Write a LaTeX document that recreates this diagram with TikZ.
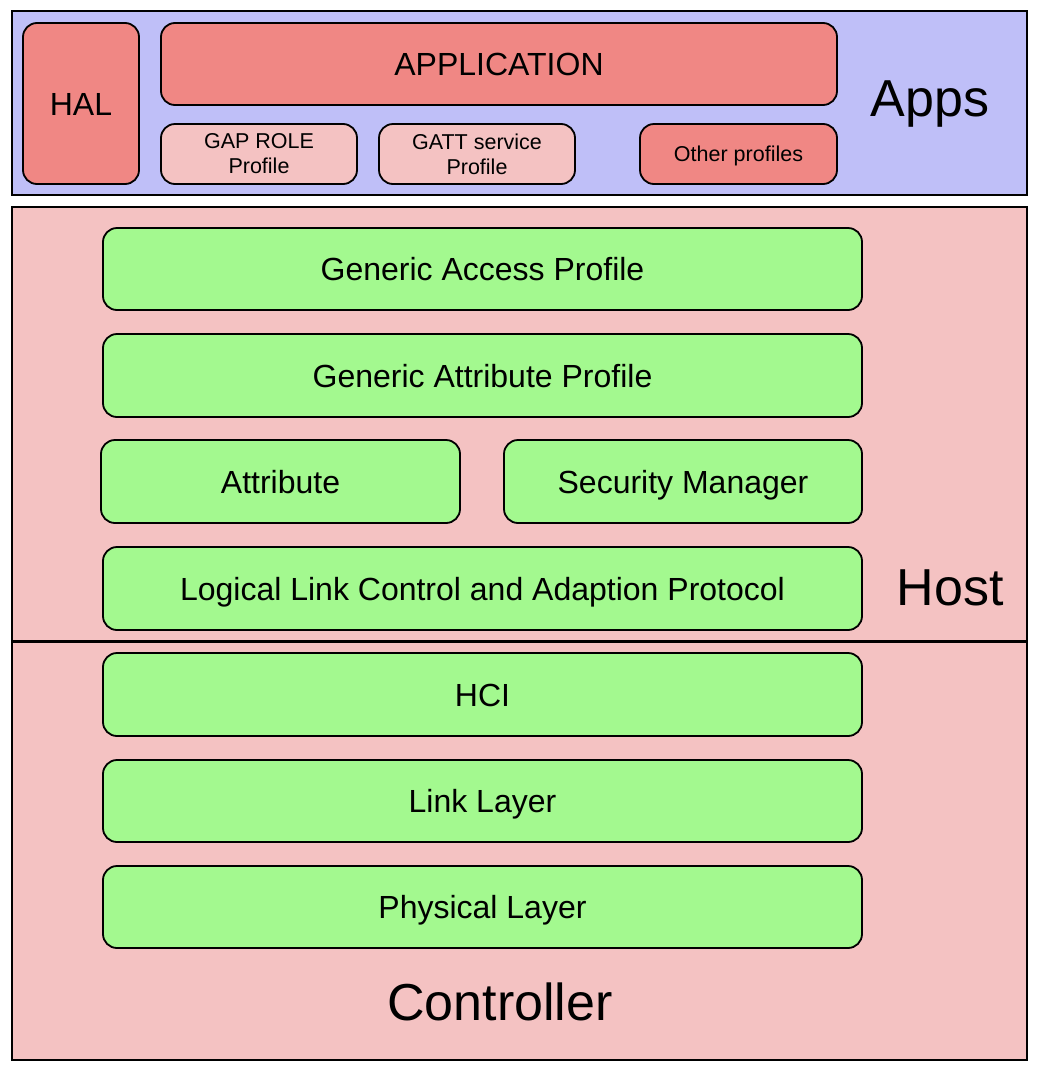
\documentclass[tikz,border=0pt]{standalone}
\usepackage{fontspec}
\setmainfont{Liberation Sans}
\usetikzlibrary{positioning, calc}
\usepackage{xcolor}

\definecolor{appsbg}{RGB}{191,191,248}
\definecolor{apred}{RGB}{240,135,132}
\definecolor{hostbg}{RGB}{244,194,194}
\definecolor{layergreen}{RGB}{163,249,143}

\begin{document}
\begin{tikzpicture}[x=1pt, y=-1pt,
    box/.style={draw, line width=1.8pt, rounded corners=14pt, fill=#1,
                align=center, inner sep=0pt},
    blk/.style={box=#1, font=\fontsize{32}{38}\selectfont,
                text height=23pt, text depth=0pt},
    blk/.default={layergreen},
    small/.style={box=#1, font=\fontsize{21.5}{25}\selectfont},
    frame/.style={draw, line width=1.8pt, fill=#1, inner sep=0pt},
    big/.style={font=\fontsize{52}{60}\selectfont}
]
\useasboundingbox (0,0) rectangle (1040,1074);

% ---- Apps ----
\node[frame=appsbg, minimum width=1015pt, minimum height=184pt]
      (apps) at (519.5,103) {};
\node[blk=apred, minimum width=116pt, minimum height=161pt]
      (hal) at (81,103.5) {HAL};
\node[blk=apred, minimum width=676pt, minimum height=82pt]
      (app) at (499,64) {APPLICATION};
\node[small=hostbg, minimum width=196pt, minimum height=60pt]
      (gaprole) at (259,154) {GAP ROLE\\Profile};
\node[small=hostbg, minimum width=196pt, minimum height=60pt]
      (gattsvc) at (477,154) {GATT service\\Profile};
\node[small=apred, minimum width=197pt, minimum height=60pt,
      text height=15.5pt, text depth=0pt]
      (other) at (738.5,154) {Other profiles};
\node[big] (appslbl) at (930,104) {Apps};

% ---- Host ----
\node[frame=hostbg, minimum width=1015pt, minimum height=853pt]
      (host) at (519.5,633.5) {};

\node[blk, minimum width=759pt, minimum height=82pt]
      (gap)   at (482.5,269)   {Generic Access Profile};
\node[blk, minimum width=759pt, minimum height=83pt]
      (gatt)  at (482.5,375.5) {Generic Attribute Profile};
\node[blk, minimum width=359pt, minimum height=83pt]
      (attr)  at (280.5,481.5) {Attribute};
\node[blk, minimum width=358pt, minimum height=83pt]
      (sm)    at (683,481.5)   {Security Manager};
\node[blk, minimum width=759pt, minimum height=83pt]
      (l2cap) at (482.5,588.5) {Logical Link Control and Adaption Protocol};
\node[big] (hostlbl) at (950,588) {Host};

% ---- Controller ----
\node[blk, minimum width=759pt, minimum height=83pt]
      (hci)   at (482.5,694.5) {HCI};
\node[blk, minimum width=759pt, minimum height=82pt]
      (ll)    at (482.5,801)   {Link Layer};
\node[blk, minimum width=759pt, minimum height=82pt]
      (phy)   at (482.5,907)   {Physical Layer};
\node[big] (ctrllbl) at (500,1002) {Controller};

% divider between host and controller
\coordinate (split) at ($(l2cap.south)!0.5!(hci.north)$);
\draw[line width=2.4pt] (host.west |- split) -- (host.east |- split);

\end{tikzpicture}
\end{document}
